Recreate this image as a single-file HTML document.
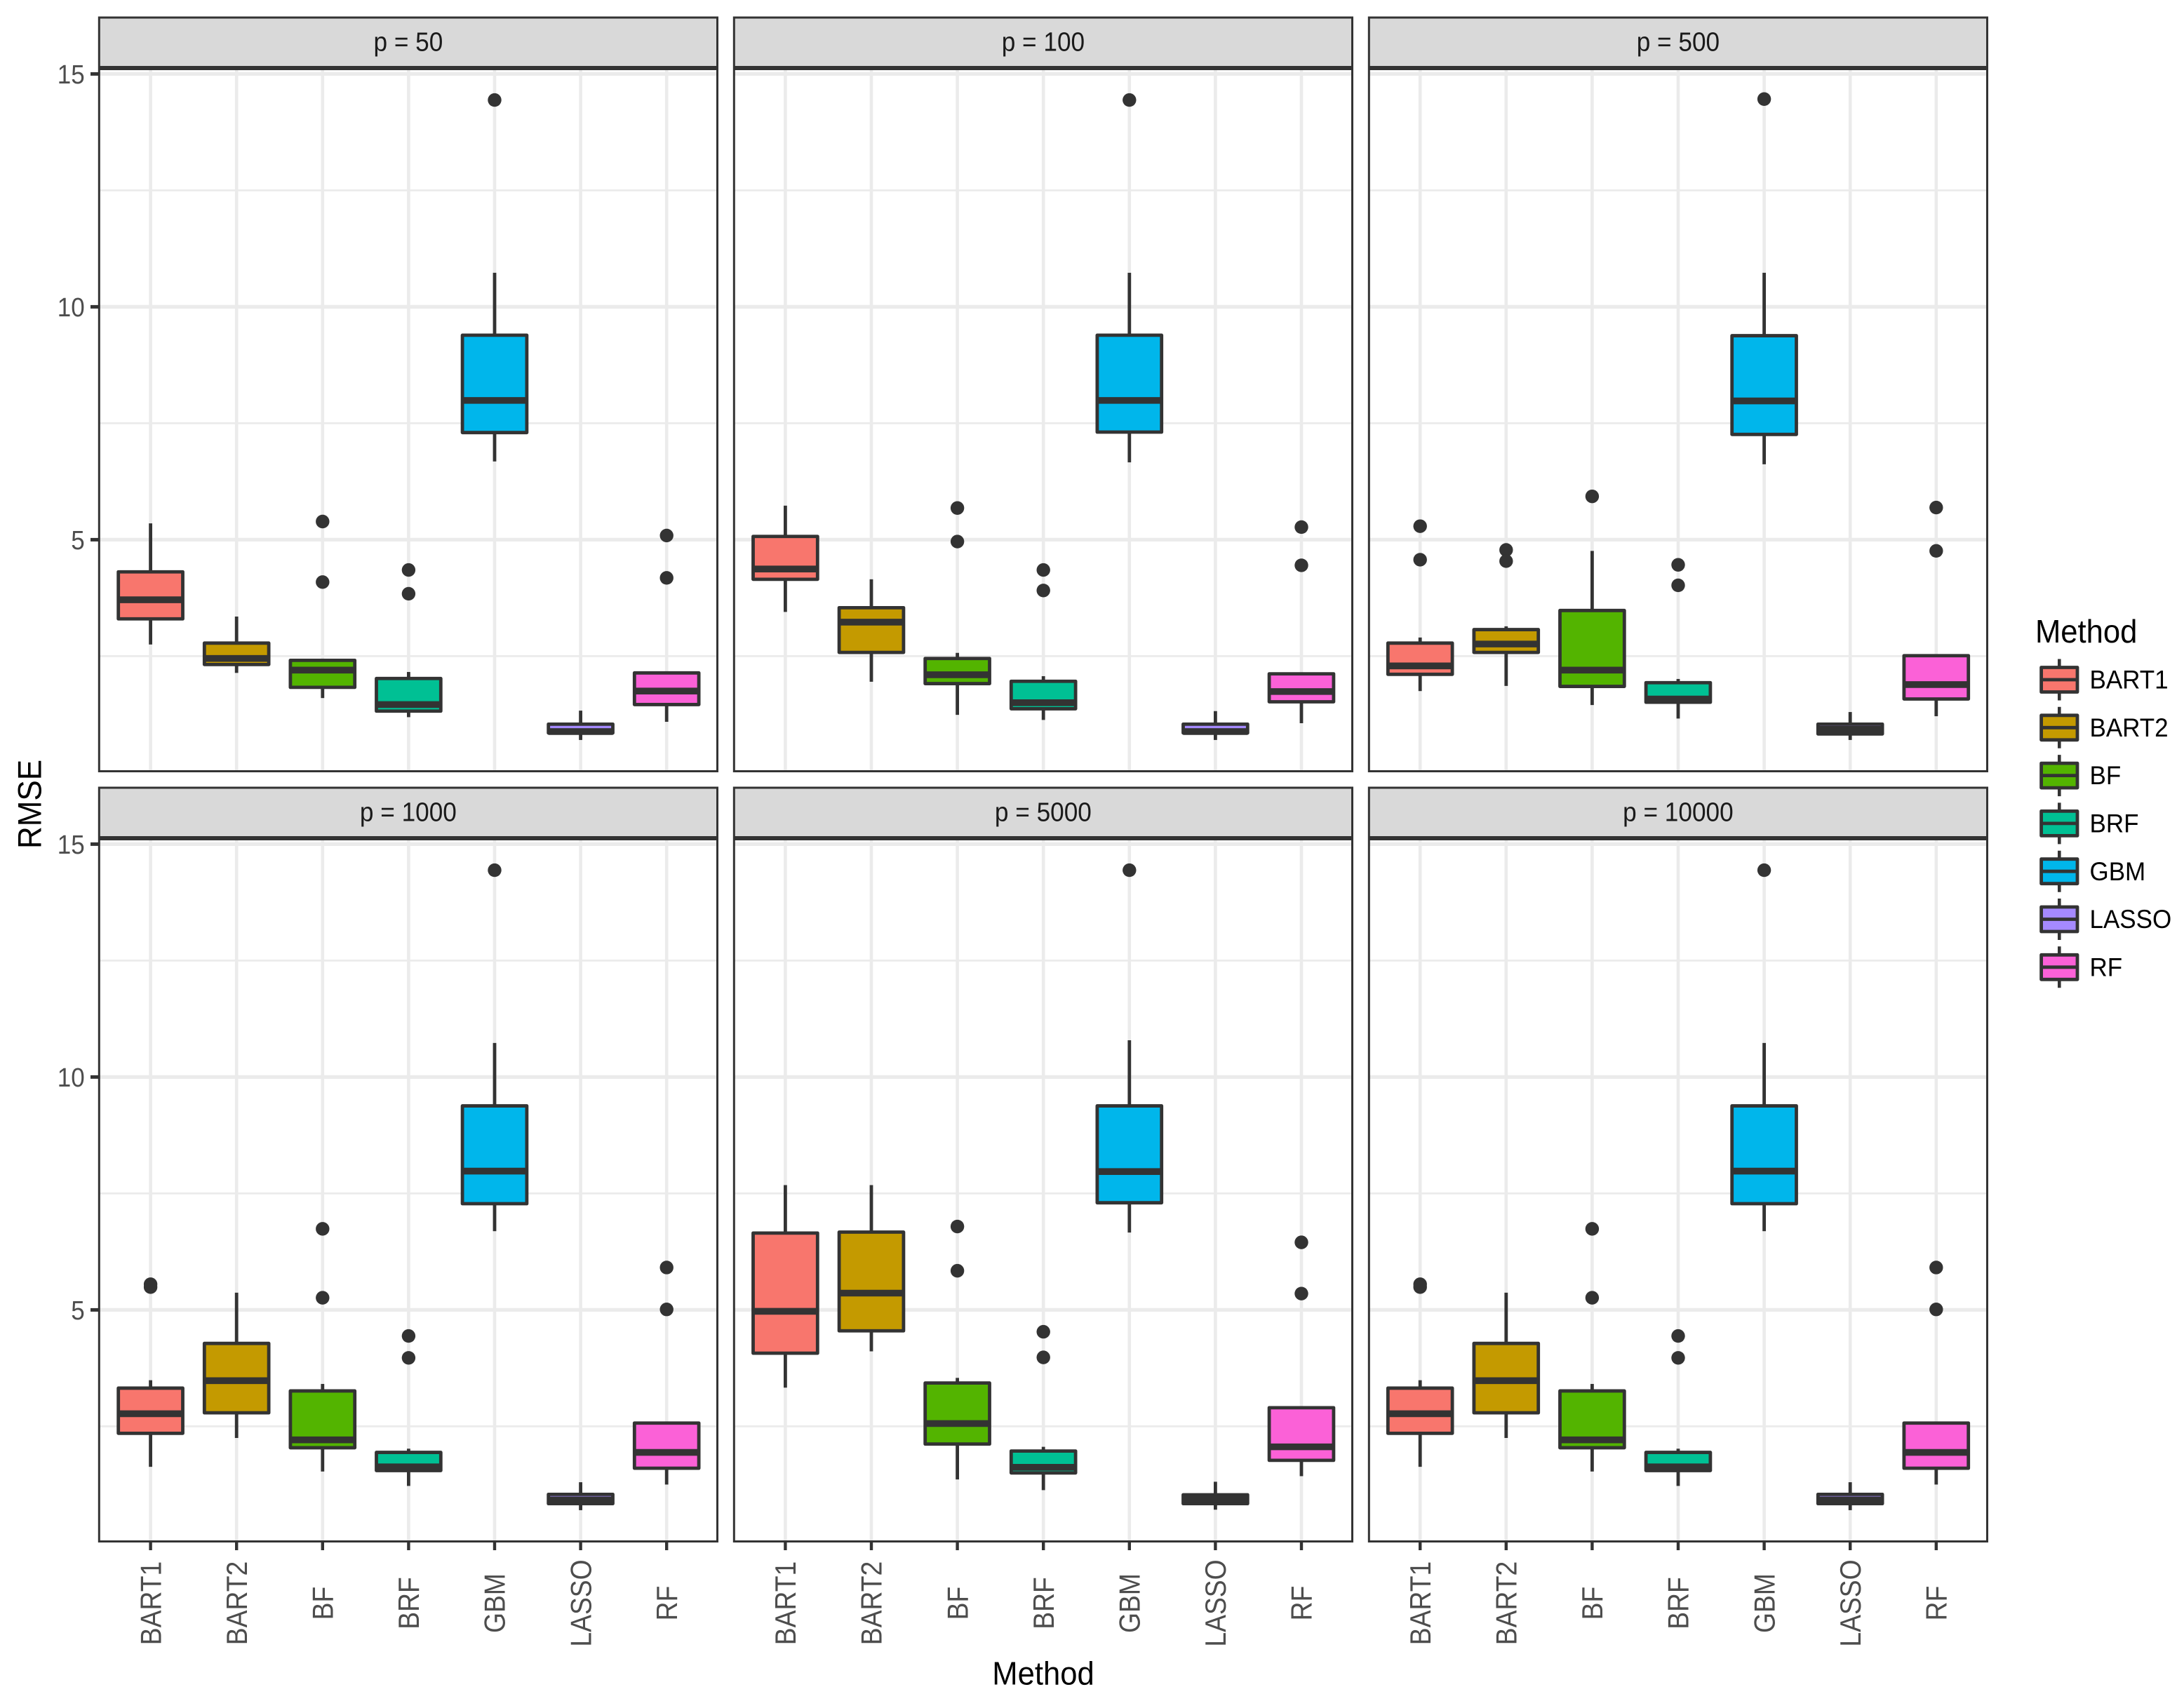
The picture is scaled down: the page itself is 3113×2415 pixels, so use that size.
<!DOCTYPE html>
<html lang="en">
<head>
<meta charset="utf-8">
<title>RMSE by method and number of predictors</title>
<style>
html,body{margin:0;padding:0;background:#fff;}
svg{display:block;}
text{font-family:"Liberation Sans",Arial,sans-serif;}
</style>
</head>
<body>
<svg id="chart" xmlns="http://www.w3.org/2000/svg" width="3113" height="2415" viewBox="0 0 3113 2415"></svg>
<script>
const categories = ['BART1','BART2','BF','BRF','GBM','LASSO','RF'];
const panelLabels = ['p = 50','p = 100','p = 500','p = 1000','p = 5000','p = 10000'];
const fillColors = ['#F8766D','#C49A00','#53B400','#00C094','#00B6EB','#A58AFF','#FB61D7'];
const majorTicks = [5,10,15];
const majorTickLabels = ['5','10','15'];
const minorTicks = [2.5,7.5,12.5];
const xAxisTitle = 'Method';
const yAxisTitle = 'RMSE';
const legendTitle = 'Method';

const whiskerHigh = [
  [5.35,3.35,2.41,2.16,10.73,1.33,2.14],
  [5.73,4.15,2.57,2.07,10.73,1.32,2.12],
  [2.90,3.14,4.76,2.01,10.73,1.30,2.51],
  [3.49,5.37,3.41,2.02,10.73,1.30,2.57],
  [7.68,7.68,3.54,2.06,10.79,1.31,2.90],
  [3.49,5.37,3.41,2.02,10.73,1.30,2.57]
];
const q3 = [
  [4.31,2.78,2.41,2.02,9.39,1.04,2.14],
  [5.07,3.54,2.45,1.96,9.39,1.04,2.12],
  [2.78,3.07,3.48,1.93,9.38,1.04,2.51],
  [3.32,4.28,3.26,1.94,9.38,1.04,2.57],
  [6.65,6.67,3.43,1.97,9.38,1.03,2.90],
  [3.32,4.28,3.26,1.94,9.38,1.04,2.57]
];
const medians = [
  [3.71,2.45,2.20,1.46,7.99,0.88,1.75],
  [4.37,3.23,2.10,1.50,7.99,0.88,1.74],
  [2.29,2.76,2.20,1.58,7.98,0.93,1.89],
  [2.77,3.48,2.21,1.63,7.98,0.92,1.94],
  [4.97,5.36,2.56,1.62,7.97,0.94,2.06],
  [2.77,3.48,2.21,1.63,7.98,0.92,1.94]
];
const q1 = [
  [3.30,2.32,1.83,1.32,7.30,0.85,1.46],
  [4.15,2.58,1.91,1.37,7.31,0.85,1.52],
  [2.11,2.58,1.85,1.51,7.26,0.83,1.58],
  [2.35,2.79,2.04,1.55,7.28,0.84,1.60],
  [4.07,4.55,2.12,1.50,7.30,0.84,1.77],
  [2.35,2.79,2.04,1.55,7.28,0.84,1.60]
];
const whiskerLow = [
  [2.75,2.14,1.60,1.19,6.68,0.70,1.09],
  [3.45,1.95,1.24,1.13,6.66,0.70,1.06],
  [1.75,1.86,1.45,1.16,6.62,0.70,1.21],
  [1.63,2.25,1.53,1.22,6.69,0.70,1.25],
  [3.33,4.11,1.36,1.13,6.66,0.71,1.43],
  [1.63,2.25,1.53,1.22,6.69,0.70,1.25]
];
const outliers = [
  [[],[],[5.39,4.09],[4.35,3.84],[14.44],[],[5.09,4.18]],
  [[],[],[5.68,4.96],[4.35,3.91],[14.44],[],[5.27,4.45]],
  [[5.29,4.57],[4.78,4.54],[5.93],[4.46,4.02],[14.46],[],[5.69,4.76]],
  [[5.55,5.49],[],[6.74,5.26],[4.44,3.97],[14.44],[],[5.91,5.01]],
  [[],[],[6.79,5.84],[4.53,3.98],[14.44],[],[6.45,5.35]],
  [[5.55,5.49],[],[6.74,5.26],[4.44,3.97],[14.44],[],[5.91,5.01]]
];

const NS = 'http://www.w3.org/2000/svg';
const svg = document.getElementById('chart');
const INK = '#333333';
const GRID = '#EBEBEB';
const panelW = 881.2;
const panelLeft = col => 141.3 + col * 905;
const rowOffset = row => row * 1098;
const panelTop = row => 98.5 + rowOffset(row);
const panelBottom = row => 1099.5 + rowOffset(row);
const xScale = (col, i) => 214.6 + col * 904.8 + i * 122.6;
const yScale = (row, v) => rowOffset(row) + 769.4 - (v - 5) * 66.4;
const boxW = 91.8;

function shape(parent, tag, props) {
  const el = document.createElementNS(NS, tag);
  for (const k in props) el.setAttribute(k, props[k]);
  parent.appendChild(el);
  return el;
}
function label(parent, str, props) {
  const el = shape(parent, 'text', props);
  el.textContent = str;
  return el;
}

panelLabels.forEach((pl, p) => {
  const col = p % 3;
  const row = Math.floor(p / 3);
  const left = panelLeft(col);
  const right = left + panelW;
  const top = panelTop(row);
  const bottom = panelBottom(row);

  const panel = shape(svg, 'g', {});
  
  

  minorTicks.forEach(t => {
    const g = shape(panel, 'line', {x1:left, x2:right, y1:yScale(row,t), y2:yScale(row,t), stroke:GRID, 'stroke-width':2.8});
    
    
  });
  majorTicks.forEach(t => {
    const g = shape(panel, 'line', {x1:left, x2:right, y1:yScale(row,t), y2:yScale(row,t), stroke:GRID, 'stroke-width':5.3});
    
    
  });
  categories.forEach((c, i) => {
    const g = shape(panel, 'line', {x1:xScale(col,i), x2:xScale(col,i), y1:top, y2:bottom, stroke:GRID, 'stroke-width':4.6});
    
    
  });

  categories.forEach((c, i) => {
    const x = xScale(col, i);
    const box = shape(panel, 'g', {});
    
    

    const wHi = shape(box, 'line', {x1:x, x2:x, y1:yScale(row,whiskerHigh[p][i]), y2:yScale(row,q3[p][i]), stroke:INK, 'stroke-width':4.8});
    
    
    const wLo = shape(box, 'line', {x1:x, x2:x, y1:yScale(row,q1[p][i]), y2:yScale(row,whiskerLow[p][i]), stroke:INK, 'stroke-width':4.8});
    
    

    const yTop = yScale(row, q3[p][i]);
    const yBot = yScale(row, q1[p][i]);
    const r = shape(box, 'rect', {x:x - boxW/2, y:yTop, width:boxW, height:yBot - yTop, fill:fillColors[i], stroke:INK, 'stroke-width':4.8, 'stroke-linejoin':'round'});
    
    

    const m = shape(box, 'line', {x1:x - boxW/2, x2:x + boxW/2, y1:yScale(row,medians[p][i]), y2:yScale(row,medians[p][i]), stroke:INK, 'stroke-width':9.6});
    
    

    outliers[p][i].forEach(v => {
      const o = shape(box, 'circle', {cx:x, cy:yScale(row,v), r:9.7, fill:INK});
      
      
    });
  });

  const border = shape(panel, 'rect', {x:left, y:top, width:panelW, height:bottom - top, fill:'none', stroke:INK, 'stroke-width':3});
  
  

  const strip = shape(panel, 'rect', {x:left, y:25 + rowOffset(row), width:panelW, height:70.5, fill:'#D9D9D9', stroke:INK, 'stroke-width':3});
  
  
  const stripText = label(panel, pl, {'text-anchor':'middle', 'font-size':35.2, fill:'#1A1A1A', transform:'translate(' + (left + panelW/2) + ',' + (72.7 + rowOffset(row)) + ') scale(1,1.07)'});
  
  

  if (col === 0) {
    majorTicks.forEach((t, k) => {
      const y = yScale(row, t);
      const tick = shape(panel, 'line', {x1:129, x2:left, y1:y, y2:y, stroke:INK, 'stroke-width':5});
      
      
      const tl = label(panel, majorTickLabels[k], {'text-anchor':'end', 'font-size':35, fill:'#4D4D4D', transform:'translate(120.7,' + (y + 13.6) + ') scale(1,1.08)'});
      
      
    });
  }
  if (row === 1) {
    categories.forEach((c, i) => {
      const x = xScale(col, i);
      const tick = shape(panel, 'line', {x1:x, x2:x, y1:bottom, y2:bottom + 12.5, stroke:INK, 'stroke-width':4.4});
      
      
      const tl = label(panel, c, {'text-anchor':'middle', 'font-size':37.3, fill:'#4D4D4D', transform:'translate(' + (x + 14.7) + ',2285.5) rotate(-90) scale(1,1.13)'});
      
      
    });
  }
});

const xTitle = label(svg, xAxisTitle, {'text-anchor':'middle', 'font-size':43.6, fill:'#000', transform:'translate(1487,2401.5) scale(1,1.07)'});


const yTitle = label(svg, yAxisTitle, {'text-anchor':'middle', 'font-size':44, fill:'#000', transform:'translate(58.4,1146.5) rotate(-90) scale(1,1.07)'});



const legend = shape(svg, 'g', {});


const lTitle = label(legend, legendTitle, {'font-size':43.6, fill:'#000', transform:'translate(2901,915.8) scale(1,1.06)'});


categories.forEach((c, i) => {
  const cy = 969 + i * 68.3;
  const entry = shape(legend, 'g', {});
  
  
  const w1 = shape(entry, 'line', {x1:2935.3, x2:2935.3, y1:cy - 29.5, y2:cy + 29.5, stroke:INK, 'stroke-width':4.6});
  
  
  const k = shape(entry, 'rect', {x:2909.6, y:cy - 17.5, width:51.4, height:35, fill:fillColors[i], stroke:INK, 'stroke-width':4.8, 'stroke-linejoin':'round'});
  
  
  const m = shape(entry, 'line', {x1:2909.6, x2:2961, y1:cy, y2:cy, stroke:INK, 'stroke-width':4.8});
  
  
  const t = label(entry, c, {'font-size':35, fill:'#000', transform:'translate(2978.5,' + (cy + 12.6) + ') scale(1,1.06)'});
  
  
});
</script>
</body>
</html>
